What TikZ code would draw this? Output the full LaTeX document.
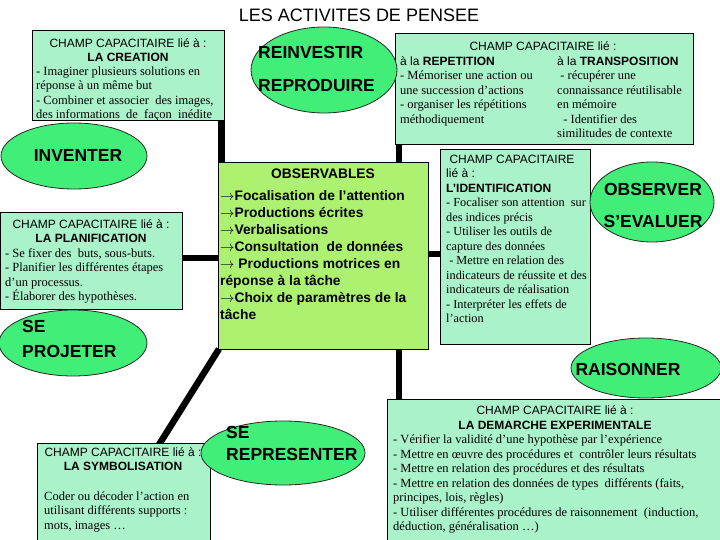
\documentclass[tikz,border=0pt]{standalone}
\usepackage{fontspec}
\setmainfont{Liberation Serif}
\setsansfont{Liberation Sans}
\newcommand{\arrw}{\ensuremath{\rightarrow}}
\usetikzlibrary{shapes.geometric}
\definecolor{boxfill}{RGB}{170,242,202}
\definecolor{ellfill}{RGB}{64,238,120}
\definecolor{obsfill}{RGB}{172,242,112}
\pgfdeclarelayer{bg}
\pgfsetlayers{bg,main}
\tikzset{
  box/.style={draw=black, line width=1pt, fill=boxfill, anchor=north west, inner sep=0pt, outer sep=0pt},
  ell/.style={ellipse, draw=black!85, line width=0.8pt, fill=ellfill, inner sep=0pt},
  bar/.style={line width=6.5pt, black},
  big/.style={font=\fontsize{17.5}{22}\selectfont\bfseries\sffamily, anchor=west, inner sep=0pt},
  hdr/.style={anchor=north, inner sep=0pt, align=center, font=\fontsize{12}{14.4}\selectfont\sffamily},
  body/.style={anchor=north west, inner sep=0pt, align=left, font=\fontsize{12.5}{14.4}\selectfont},
  obstxt/.style={anchor=north west, inner sep=0pt, align=left, font=\fontsize{13.8}{16.9}\selectfont\sffamily\bfseries},
}
\begin{document}
\begin{tikzpicture}[x=1pt,y=-1pt]
\useasboundingbox (0,0) rectangle (720,540);
\clip (0,0) rectangle (720,540);

% title
\node[font=\fontsize{18}{21}\selectfont\sffamily, inner sep=0pt] (title) at (359,15) {LES ACTIVITES DE PENSEE};

% boxes
\node[box, minimum width=192pt, minimum height=90pt] (crea) at (32,31) {};
\node[hdr] (creaH) at (128,38.5) {CHAMP CAPACITAIRE lié à :\\ \textbf{LA CREATION}};
\node[body] (creaB) at (36,66.5) {- Imaginer plusieurs solutions en\\ réponse à un même but\\ - Combiner et associer\ \ des images,\\ des informations\ \ de\ \ façon\ \ inédite};

\node[box, minimum width=298pt, minimum height=111pt] (rep) at (395,34) {};
\node[hdr] (repH) at (543,41.5) {CHAMP CAPACITAIRE lié :};
\node[body] (repL) at (400,56.5) {{\sffamily\fontsize{12}{14.4}\selectfont à la \textbf{REPETITION}}\\ - Mémoriser une action ou\\ une succession d’actions\\ - organiser les répétitions\\ méthodiquement};
\node[body] (repR) at (557,56.5) {{\sffamily\fontsize{12}{14.4}\selectfont à la \textbf{TRANSPOSITION}}\\ \ - récupérer une\\ connaissance réutilisable\\ en mémoire\\ \ \ - Identifier des\\ similitudes de contexte};

\node[box, minimum width=182pt, minimum height=96pt] (plan) at (0,213) {};
\node[hdr] (planH) at (91,219.5) {CHAMP CAPACITAIRE lié à :\\ \textbf{LA PLANIFICATION}};
\node[body] (planB) at (5,248.5) {- Se fixer des\ \ buts, sous-buts.\\ - Planifier les différentes étapes\\ d’un processus.\\ - Élaborer des hypothèses.};

\node[box, minimum width=173pt, minimum height=110pt] (symb) at (37,443) {};
\node[hdr] (symbH) at (123,447.5) {CHAMP CAPACITAIRE lié à :\\ \textbf{LA SYMBOLISATION}};
\node[body] (symbB) at (44,491.5) {Coder ou décoder l’action en\\ utilisant différents supports :\\ mots, images …};

\node[box, minimum width=150pt, minimum height=194pt] (ident) at (440,150) {};
\node[body, font=\fontsize{12.3}{14.5}\selectfont] (identB) at (446,154.5) {{\sffamily\fontsize{12}{14.5}\selectfont\ CHAMP CAPACITAIRE}\\ {\sffamily\fontsize{12}{14.5}\selectfont lié à :}\\ {\sffamily\bfseries\fontsize{12}{14.5}\selectfont L’IDENTIFICATION}\\ - Focaliser son attention\ \ sur\\ des indices précis\\ - Utiliser les outils de\\ capture des données\\ \ - Mettre en relation des\\ indicateurs de réussite et des\\ indicateurs de réalisation\\ - Interpréter les effets de\\ l’action};

\node[box, minimum width=340pt, minimum height=150pt] (dem) at (387,399) {};
\node[hdr, font=\fontsize{12}{14.5}\selectfont\sffamily] (demH) at (555,405.5) {CHAMP CAPACITAIRE lié à :\\ \textbf{LA DEMARCHE EXPERIMENTALE}};
\node[body, font=\fontsize{12.5}{14.5}\selectfont] (demB) at (393,434.5) {- Vérifier la validité d’une hypothèse par l’expérience\\ - Mettre en œuvre des procédures et\ \ contrôler leurs résultats\\ - Mettre en relation des procédures et des résultats\\ - Mettre en relation des données de types\ \ différents (faits,\\ principes, lois, règles)\\ - Utiliser différentes procédures de raisonnement\ \ (induction,\\ déduction, généralisation …)};

\node[box, fill=obsfill, minimum width=210pt, minimum height=186pt] (obs) at (218,163) {};
\node[font=\fontsize{13.8}{16.9}\selectfont\sffamily\bfseries, inner sep=0pt] (obsH) at (323,174) {OBSERVABLES};
\node[obstxt] (obsB) at (220,190.5) {\arrw Focalisation de l’attention\\ \arrw Productions écrites\\ \arrw Verbalisations\\ \arrw Consultation\ \ de données\\ \arrw\ Productions motrices en\\ réponse à la tâche\\ \arrw Choix de paramètres de la\\ tâche};

% ellipses
\node[ell, minimum width=146pt, minimum height=86pt] (reinv) at (324,70) {};
\node[big] (reinvA) at (258,52) {REINVESTIR};
\node[big] (reinvB) at (258,85) {REPRODUIRE};

\node[ell, minimum width=146pt, minimum height=66pt] (inv) at (74,156) {};
\node[big, anchor=center] (invA) at (78,155) {INVENTER};

\node[ell, minimum width=148pt, minimum height=66pt] (proj) at (73,343) {};
\node[big] (projA) at (22,326) {SE};
\node[big] (projB) at (22,351) {PROJETER};

\node[ell, minimum width=164pt, minimum height=64pt] (repr) at (283,453) {};
\node[big] (reprA) at (226,432) {SE};
\node[big] (reprB) at (226,454) {REPRESENTER};

\node[ell, minimum width=124pt, minimum height=80pt] (obsv) at (652,202) {};
\node[big, anchor=center] (obsvA) at (653,189) {OBSERVER};
\node[big, anchor=center] (obsvB) at (653,221) {S’EVALUER};

\node[ell, minimum width=150pt, minimum height=60pt] (rais) at (646,368) {};
\node[big, anchor=center] (raisA) at (628,369) {RAISONNER};

% connectors
\begin{pgfonlayer}{bg}
\draw[bar] ([xshift=-2.5pt]crea.south east) -- ([xshift=-2.5pt]crea.south east |- obs.north);
\draw[bar] ([xshift=4pt]rep.south west) -- ([xshift=4pt]rep.south west |- obs.north);
\draw[bar] ([yshift=3pt]plan.east) -- ([yshift=3pt]plan.east -| obs.west);
\draw[bar] ([yshift=2pt]obs.east) -- ([yshift=2pt]obs.east -| ident.west);
\draw[bar] ([xshift=1pt]obs.south west) -- ([xshift=34pt,yshift=-4pt]symb.north);
\draw[bar] ([xshift=-29pt]obs.south east) -- ([xshift=-29pt]obs.south east |- dem.north);
\end{pgfonlayer}
\end{tikzpicture}
\end{document}
